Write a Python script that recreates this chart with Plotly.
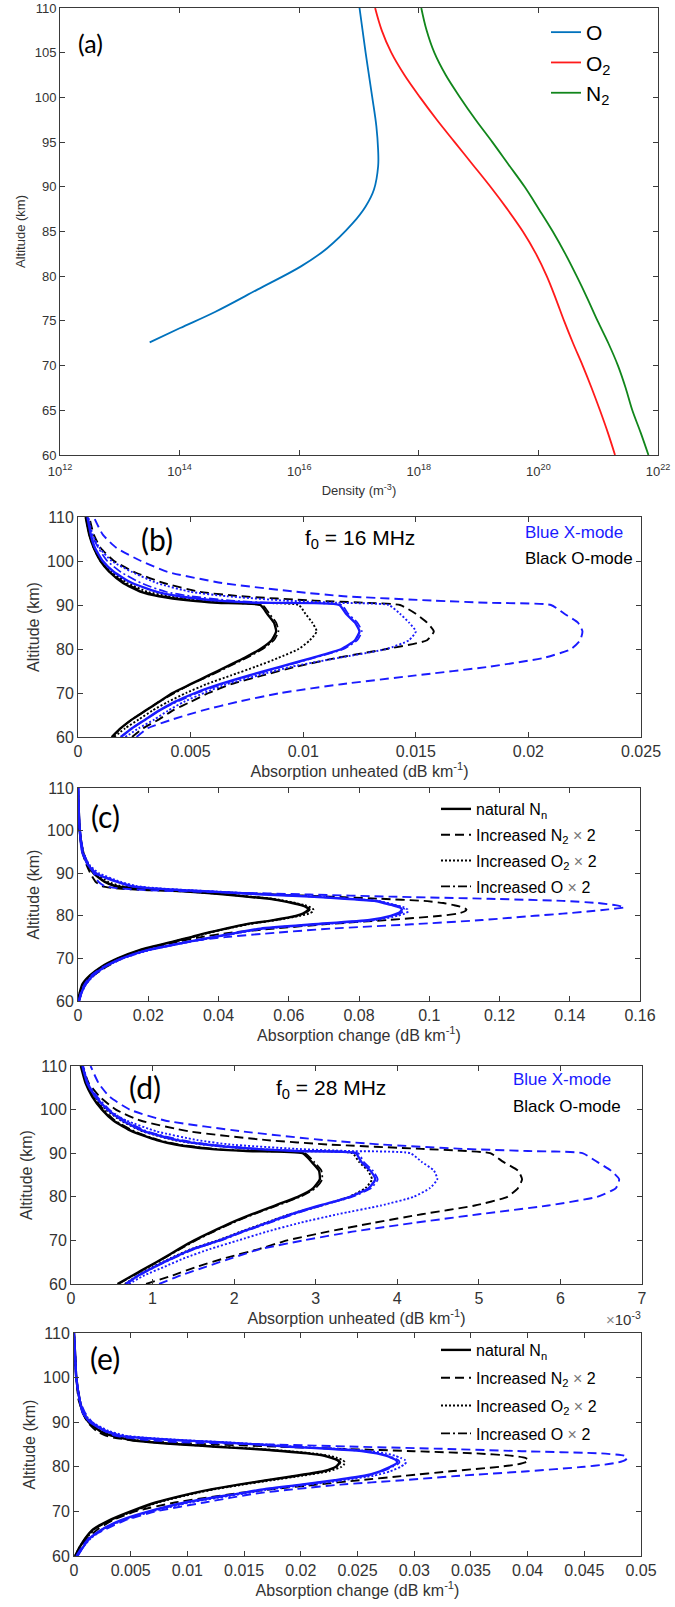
import plotly.graph_objects as go

W, H = 675, 1607
FONT = "Liberation Sans, Arial, sans-serif"
LETTER_FONT = "Lato, Open Sans, sans-serif"
BLUE = "#1a1aff"
AXC = "#3a3a3a"

# ---------------- (a) neutral densities (m^-3) ----------------
ALT_O = [72.6, 74.2, 76.0, 78.5, 81.1, 83.1, 85.9, 87.8, 89.7, 92.3, 94.1, 96.8, 100.1, 105.0, 110.0]
DEN_O = [3.16e13, 1.02e14, 3.9e14, 2.0e15, 1.07e16, 2.9e16, 7.8e16, 1.29e17, 1.78e17,
         2.09e17, 2.09e17, 1.95e17, 1.66e17, 1.29e17, 1.02e17]
ALT_MOL = [60, 62.5, 65, 67.5, 70, 72.5, 75, 77.5, 80, 82.5, 85, 87.5, 90, 92.5, 95,
           97.5, 100, 102.5, 105, 107.5, 110]
DEN_O2 = [1.91e21, 1.45e21, 1.07e21, 7.76e20, 5.50e20, 3.80e20, 2.69e20, 1.95e20, 1.38e20,
          9.12e19, 5.50e19, 3.02e19, 1.58e19, 7.94e18, 3.98e18, 2.00e18, 1.05e18, 5.75e17,
          3.47e17, 2.40e17, 1.86e17]
DEN_N2 = [6.92e21, 5.13e21, 3.72e21, 2.88e21, 2.14e21, 1.48e21, 9.77e20, 6.61e20, 4.37e20,
          2.82e20, 1.74e20, 1.02e20, 5.89e19, 3.16e19, 1.70e19, 8.91e18, 4.90e18, 2.82e18,
          1.82e18, 1.35e18, 1.10e18]
DEN_TICKS = [1e12, 1e14, 1e16, 1e18, 1e20, 1e22]
DEN_LABELS = ["10<sup>12</sup>", "10<sup>14</sup>", "10<sup>16</sup>", "10<sup>18</sup>",
              "10<sup>20</sup>", "10<sup>22</sup>"]

# ---------------- (b) / (d) unheated absorption ----------------
ALT_UNHEATED = [60, 62, 64, 66, 68, 70, 72, 74, 76, 78, 80, 82, 84, 86, 88, 90,
                90.5, 91, 92, 93, 95, 97.5, 100, 103, 106, 110]

# f0 = 16 MHz, dB/km
B_O_NAT = [.0015, .0019, .0024, .0030, .0036, .0042, .0050, .0058, .0066, .0074, .0081, .0086, .0088,
           .0087, .0084, .0081, .0062, .0050, .0036, .0028, .0020, .0014, .0010, .0007, .0005, .00034]
B_O_N2 = [.0024, .0029, .0036, .0042, .0050, .0058, .0068, .0082, .0097, .0115, .0137, .0155, .0158,
          .0155, .0150, .0143, .0128, .0105, .0072, .0054, .0038, .0025, .0016, .0010, .0007, .0005]
B_O_O2 = [.0016, .0021, .0027, .0033, .0040, .0048, .0057, .0068, .0079, .0089, .0098, .0103, .0106,
          .0104, .0101, .0098, .0070, .0056, .0040, .0031, .0022, .0015, .0010, .0007, .00052, .0004]
B_O_O = [.0015, .0019, .0024, .0030, .0036, .0043, .0050, .0059, .0067, .0075, .0082, .0087, .0089,
         .0088, .0085, .0082, .0064, .0052, .0037, .0029, .0021, .0014, .0010, .0007, .0005, .00035]
B_X_NAT = [.0019, .0024, .0030, .0036, .0043, .0052, .0063, .0076, .0090, .0104, .0117, .0123, .0125,
           .0123, .0119, .0116, .0080, .0062, .0045, .0035, .0024, .0016, .0011, .00075, .00057, .00042]
B_X_N2 = [.0026, .0031, .0042, .0055, .0071, .0090, .0117, .0150, .0183, .0207, .0219, .0223, .0224,
          .0222, .0216, .0210, .0182, .0158, .0118, .0097, .0064, .0040, .0028, .0017, .0011, .0007]
B_X_O2 = [.0021, .0027, .0034, .0040, .0047, .0056, .0066, .0080, .0095, .0116, .0137, .0147, .0150,
          .0147, .0143, .0138, .0115, .0092, .0066, .0050, .0035, .0024, .0015, .00095, .00065, .00045]
B_X_O = [.0019, .0024, .0030, .0036, .0044, .0053, .0064, .0077, .0091, .0105, .0118, .0124, .0126,
         .0124, .0120, .0117, .0085, .0068, .0050, .0039, .0028, .0019, .0013, .0009, .0006, .00045]

# f0 = 28 MHz, units of 1e-3 dB/km
D_O_NAT = [.57, .76, .95, 1.14, 1.32, 1.51, 1.73, 1.96, 2.22, 2.50, 2.78, 2.97, 3.05,
           3.04, 2.95, 2.84, 2.15, 1.70, 1.28, 1.05, 0.75, 0.52, 0.38, 0.26, 0.18, 0.12]
D_O_N2 = [.92, 1.25, 1.55, 1.90, 2.30, 2.65, 3.15, 3.70, 4.30, 4.95, 5.35, 5.48, 5.53,
          5.48, 5.30, 5.14, 4.85, 4.30, 3.15, 2.40, 1.45, 0.85, 0.55, 0.35, 0.22, 0.14]
D_O_O2 = [.66, .82, 1.01, 1.23, 1.47, 1.80, 2.08, 2.38, 2.68, 3.07, 3.41, 3.61, 3.69,
          3.64, 3.53, 3.45, 2.70, 2.20, 1.62, 1.27, 0.88, 0.61, 0.43, 0.29, 0.19, 0.13]
D_O_O = [.58, .77, .96, 1.15, 1.34, 1.53, 1.75, 1.98, 2.24, 2.53, 2.81, 3.00, 3.08,
         3.07, 2.98, 2.87, 2.20, 1.75, 1.32, 1.08, 0.78, 0.54, 0.40, 0.27, 0.19, 0.13]
D_X_NAT = [.67, .83, 1.03, 1.25, 1.49, 1.82, 2.10, 2.40, 2.70, 3.05, 3.42, 3.65, 3.73,
           3.67, 3.56, 3.49, 2.75, 2.25, 1.65, 1.30, 0.90, 0.63, 0.45, 0.30, 0.20, 0.14]
D_X_N2 = [1.08, 1.35, 1.66, 1.98, 2.32, 2.85, 3.45, 4.20, 5.00, 5.85, 6.45, 6.68, 6.72,
          6.62, 6.45, 6.27, 5.60, 4.80, 3.80, 3.10, 2.10, 1.15, 0.72, 0.47, 0.34, 0.24]
D_X_O2 = [.71, .90, 1.15, 1.40, 1.70, 2.05, 2.40, 2.80, 3.27, 3.80, 4.20, 4.40, 4.49,
          4.45, 4.30, 4.16, 3.40, 2.75, 1.95, 1.55, 1.05, 0.68, 0.44, 0.30, 0.21, 0.15]
D_X_O = [.68, .84, 1.04, 1.27, 1.51, 1.84, 2.12, 2.43, 2.73, 3.08, 3.45, 3.68, 3.76,
         3.70, 3.59, 3.52, 2.80, 2.30, 1.70, 1.35, 0.94, 0.66, 0.47, 0.32, 0.21, 0.15]

# ---------------- (c) / (e) absorption change ----------------
ALT_CHANGE = [60, 62, 64, 66, 68, 70, 72, 74, 75, 76, 77, 78, 79, 80, 80.5, 81, 81.5, 82, 82.5,
              83, 83.5, 84, 84.5, 85, 85.5, 86, 86.5, 87, 88, 90, 92, 95, 100, 105, 110]

C_O_NAT = [0, .0005, .0013, .0034, .0066, .0113, .0177, .0273, .0322, .0367, .0420, .0476, .0556, .0620,
           .0640, .0650, .0656, .0650, .0635, .0610, .0580, .0545, .0480, .0420, .0340, .0260, .0150,
           .0105, .0075, .0044, .0028, .0014, .0005, .0002, 0]
C_O_N2 = [.0003, .0010, .0022, .0045, .0080, .0125, .0190, .0290, .0350, .0430, .0560, .0700, .0880, .1033,
          .1080, .1100, .1106, .1095, .1070, .1040, .0985, .0860, .0720, .0560, .0420, .0200, .0100,
          .0068, .0050, .0035, .0024, .0012, .0004, .0001, 0]
C_O_O2 = [0, .0005, .0014, .0035, .0068, .0115, .0180, .0276, .0326, .0372, .0426, .0484, .0566, .0633,
          .0657, .0668, .0670, .0662, .0645, .0620, .0590, .0555, .0490, .0430, .0350, .0270, .0170,
          .0120, .0085, .0050, .0030, .0015, .0005, .0002, 0]
C_O_O = [.0001, .0007, .0016, .0036, .0068, .0115, .0180, .0276, .0325, .0370, .0424, .0480, .0560, .0624,
         .0644, .0654, .0660, .0654, .0639, .0614, .0584, .0549, .0484, .0424, .0344, .0264, .0154,
         .0108, .0078, .0046, .0029, .0014, .0005, .0002, 0]
C_X_NAT = [.0003, .0010, .0022, .0043, .0075, .0125, .0200, .0320, .0385, .0450, .0520, .0670, .0830, .0890,
           .0908, .0918, .0922, .0915, .0895, .0870, .0844, .0760, .0660, .0530, .0420, .0300, .0200,
           .0150, .0110, .0050, .0028, .0012, .0005, .0002, .0001]
C_X_N2 = [.0002, .0008, .0019, .0038, .0072, .0125, .0200, .0320, .0420, .0560, .0720, .0950, .1150, .1300,
          .1380, .1450, .1510, .1556, .1530, .1480, .1380, .1170, .0890, .0660, .0420, .0200, .0110,
          .0075, .0058, .0045, .0030, .0015, .0006, .0002, 0]
C_X_O2 = [.0003, .0011, .0023, .0045, .0078, .0128, .0205, .0325, .0392, .0458, .0530, .0685, .0850, .0910,
          .0930, .0940, .0938, .0928, .0905, .0880, .0855, .0775, .0680, .0555, .0440, .0320, .0220,
          .0165, .0120, .0060, .0032, .0014, .0005, .0002, .0001]
C_X_O = [.0003, .0010, .0022, .0044, .0076, .0127, .0203, .0324, .0390, .0455, .0526, .0677, .0838, .0898,
         .0916, .0926, .0930, .0923, .0903, .0878, .0852, .0768, .0668, .0538, .0428, .0308, .0206,
         .0155, .0114, .0052, .0029, .0012, .0005, .0002, .0001]

E_O_NAT = [.0001, .0005, .0010, .0017, .0031, .0050, .0072, .0103, .0122, .0145, .0170, .0196, .0220, .0231,
           .0233, .0234, .0232, .0227, .0220, .0206, .0185, .0159, .0125, .0095, .0068, .0050, .0041,
           .0033, .0023, .0013, .0008, .0005, .0002, .0001, 0]
E_O_N2 = [.0002, .0006, .0012, .0021, .0034, .0054, .0089, .0142, .0176, .0214, .0252, .0292, .0332, .0375,
          .0390, .0398, .0401, .0398, .0385, .0355, .0300, .0240, .0180, .0125, .0080, .0050, .0036,
          .0028, .0020, .0012, .0008, .0004, .0002, .0001, 0]
E_O_O2 = [.0001, .0005, .0011, .0018, .0032, .0052, .0074, .0106, .0125, .0149, .0175, .0201, .0225, .0236,
          .0238, .0239, .0237, .0232, .0225, .0211, .0190, .0164, .0130, .0099, .0072, .0054, .0044,
          .0035, .0024, .0014, .0009, .0005, .0002, .0001, 0]
E_O_O = [.0001, .0005, .0010, .0018, .0032, .0051, .0073, .0104, .0123, .0146, .0171, .0197, .0221, .0232,
         .0234, .0235, .0233, .0228, .0221, .0207, .0186, .0160, .0126, .0096, .0069, .0051, .0042,
         .0034, .0023, .0013, .0008, .0005, .0002, .0001, 0]
E_X_NAT = [.0003, .0008, .0014, .0025, .0041, .0066, .0098, .0145, .0168, .0200, .0230, .0256, .0270, .0279,
           .0283, .0285, .0284, .0280, .0275, .0267, .0255, .0228, .0190, .0163, .0128, .0088, .0058,
           .0040, .0028, .0014, .0008, .0005, .0002, .0001, 0]
E_X_N2 = [.0002, .0007, .0013, .0028, .0045, .0072, .0115, .0160, .0195, .0235, .0290, .0340, .0400, .0450,
          .0468, .0480, .0486, .0488, .0485, .0465, .0395, .0330, .0250, .0175, .0095, .0065, .0048,
          .0036, .0027, .0016, .0010, .0005, .0002, .0001, 0]
E_X_O2 = [.0003, .0008, .0015, .0026, .0043, .0069, .0102, .0150, .0174, .0207, .0238, .0264, .0279, .0288,
          .0291, .0293, .0292, .0288, .0283, .0275, .0262, .0235, .0197, .0168, .0134, .0095, .0064,
          .0045, .0031, .0016, .0009, .0005, .0002, .0001, 0]
E_X_O = [.0003, .0008, .0014, .0025, .0042, .0067, .0100, .0147, .0170, .0202, .0232, .0258, .0272, .0281,
         .0285, .0287, .0286, .0282, .0277, .0269, .0257, .0230, .0192, .0165, .0130, .0090, .0060,
         .0042, .0029, .0015, .0008, .0005, .0002, .0001, 0]

LEGEND_NAMES = ["natural N<sub>n</sub>",
                "Increased N<sub>2</sub> <span style='color:#777'>×</span> 2",
                "Increased O<sub>2</sub> <span style='color:#777'>×</span> 2",
                "Increased O <span style='color:#777'>×</span> 2"]

# line style per neutral-density case: (dash pattern, width)
CASE_STYLE = {
    "nat": ("solid", 2.4),
    "n2": ("9px,5px", 1.9),
    "o2": ("2px,2px", 1.9),
    "o": ("9px,3px,2px,3px", 1.7),
}

# panel boxes in pixels: left, top, right, bottom
BOX = {
    "a": (60, 8, 658, 455),
    "b": (78, 517, 641, 737),
    "c": (78, 788, 640, 1001),
    "d": (71, 1066, 642, 1284),
    "e": (74, 1333, 641, 1556),
}
AX_ID = {"a": "", "b": "2", "c": "3", "d": "4", "e": "5"}


def px(x):
    return x / W


def py(y):
    return 1 - y / H


fig = go.Figure()

# ---- (a) ----
for name, alt, den, col in [("O", ALT_O, DEN_O, "#0072BD"),
                            ("O<sub>2</sub>", ALT_MOL, DEN_O2, "#FF1a1a"),
                            ("N<sub>2</sub>", ALT_MOL, DEN_N2, "#11861b")]:
    fig.add_trace(go.Scatter(x=den, y=alt, mode="lines", name=name,
                             line=dict(color=col, width=1.8, shape="spline", smoothing=1.0),
                             xaxis="x", yaxis="y", legend="legend", showlegend=True))

# ---- (b)-(e) ----
panels = [
    ("b", ALT_UNHEATED, {"nat": (B_O_NAT, B_X_NAT), "n2": (B_O_N2, B_X_N2),
                         "o2": (B_O_O2, B_X_O2), "o": (B_O_O, B_X_O)}),
    ("c", ALT_CHANGE, {"nat": (C_O_NAT, C_X_NAT), "n2": (C_O_N2, C_X_N2),
                       "o2": (C_O_O2, C_X_O2), "o": (C_O_O, C_X_O)}),
    ("d", ALT_UNHEATED, {"nat": (D_O_NAT, D_X_NAT), "n2": (D_O_N2, D_X_N2),
                         "o2": (D_O_O2, D_X_O2), "o": (D_O_O, D_X_O)}),
    ("e", ALT_CHANGE, {"nat": (E_O_NAT, E_X_NAT), "n2": (E_O_N2, E_X_N2),
                       "o2": (E_O_O2, E_X_O2), "o": (E_O_O, E_X_O)}),
]
for key, alts, cases in panels:
    ax = AX_ID[key]
    for mode_idx, color in [(0, "#000000"), (1, BLUE)]:
        for case in ["o", "o2", "n2", "nat"]:
            dash, width = CASE_STYLE[case]
            fig.add_trace(go.Scatter(
                x=cases[case][mode_idx], y=alts, mode="lines", showlegend=False,
                line=dict(color=color, width=width, dash=dash, shape="spline", smoothing=0.5),
                xaxis="x" + ax, yaxis="y" + ax, hoverinfo="skip"))

# legend entries for (c) and (e)
for leg, ax in [("legend2", "3"), ("legend3", "5")]:
    for i, case in enumerate(["nat", "n2", "o2", "o"]):
        dash, width = CASE_STYLE[case]
        fig.add_trace(go.Scatter(x=[None], y=[None], mode="lines", name=LEGEND_NAMES[i],
                                 line=dict(color="#000000", width=width, dash=dash),
                                 xaxis="x" + ax, yaxis="y" + ax, legend=leg,
                                 legendgroup=leg + case, showlegend=True))


def axis(key, rng, tickvals, ticktext, size, title, standoff, is_x, log=False, label_gap=None):
    l, t, r, b = BOX[key]
    ax = AX_ID[key]
    d = dict(
        range=rng, tickvals=tickvals, ticktext=ticktext,
        showline=True, linecolor=AXC, linewidth=1, mirror="ticks",
        ticks="inside", ticklen=5, tickwidth=1, tickcolor=AXC,
        showgrid=False, zeroline=False, automargin=False,
        tickfont=dict(family=FONT, size=size, color="#333"),
        title=dict(text=title, font=dict(family=FONT, size=size, color="#333"), standoff=standoff),
        fixedrange=True,
    )
    if label_gap is not None:
        d["ticklabelstandoff"] = label_gap
    if log:
        d["type"] = "log"
    if is_x:
        d["domain"] = [px(l), px(r)]
        d["anchor"] = "y" + ax
    else:
        d["domain"] = [py(b), py(t)]
        d["anchor"] = "x" + ax
    return d


alt5 = list(range(60, 111, 5))
alt10 = list(range(60, 111, 10))
TS = 16
layout = dict(
    width=W, height=H, margin=dict(l=0, r=0, t=0, b=0),
    paper_bgcolor="white", plot_bgcolor="white",
    font=dict(family=FONT, color="#000"),
    xaxis=axis("a", [12, 22], DEN_TICKS, DEN_LABELS, 13, "Density (m<sup>-3</sup>)", 8, True,
               log=True, label_gap=4),
    yaxis=axis("a", [60, 110], alt5, [str(v) for v in alt5], 13, "Altitude (km)", 6, False),
    xaxis2=axis("b", [0, 0.025], [0, .005, .01, .015, .02, .025],
                ["0", "0.005", "0.01", "0.015", "0.02", "0.025"], TS,
                "Absorption unheated (dB km<sup>-1</sup>)", 5, True),
    yaxis2=axis("b", [60, 110], alt10, [str(v) for v in alt10], TS, "Altitude (km)", 3, False),
    xaxis3=axis("c", [0, 0.16], [0, .02, .04, .06, .08, .1, .12, .14, .16],
                ["0", "0.02", "0.04", "0.06", "0.08", "0.1", "0.12", "0.14", "0.16"], TS,
                "Absorption change (dB km<sup>-1</sup>)", 4, True),
    yaxis3=axis("c", [60, 110], alt10, [str(v) for v in alt10], TS, "Altitude (km)", 3, False),
    xaxis4=axis("d", [0, 7], list(range(8)), [str(v) for v in range(8)], TS,
                "Absorption unheated (dB km<sup>-1</sup>)", 6, True),
    yaxis4=axis("d", [60, 110], alt10, [str(v) for v in alt10], TS, "Altitude (km)", 3, False),
    xaxis5=axis("e", [0, 0.05], [0, .005, .01, .015, .02, .025, .03, .035, .04, .045, .05],
                ["0", "0.005", "0.01", "0.015", "0.02", "0.025", "0.03", "0.035", "0.04", "0.045", "0.05"],
                TS, "Absorption change (dB km<sup>-1</sup>)", 5, True),
    yaxis5=axis("e", [60, 110], alt10, [str(v) for v in alt10], TS, "Altitude (km)", 3, False),
    legend=dict(x=px(546), y=py(12), xanchor="left", yanchor="top", bgcolor="rgba(0,0,0,0)",
                font=dict(family=FONT, size=21, color="#000"), tracegroupgap=6, itemwidth=30),
    legend2=dict(x=px(436), y=py(792), xanchor="left", yanchor="top", bgcolor="rgba(0,0,0,0)",
                 font=dict(family=FONT, size=16, color="#000"), tracegroupgap=2, itemwidth=30),
    legend3=dict(x=px(436), y=py(1333), xanchor="left", yanchor="top", bgcolor="rgba(0,0,0,0)",
                 font=dict(family=FONT, size=16, color="#000"), tracegroupgap=4, itemwidth=30),
    showlegend=True,
)
fig.update_layout(**layout)


def note(text, x, y, size, color="#000", family=FONT, xanchor="left"):
    fig.add_annotation(text=text, x=px(x), y=py(y), xref="paper", yref="paper",
                       xanchor=xanchor, yanchor="middle", showarrow=False,
                       font=dict(family=family, size=size, color=color))


note("(a)", 90, 43, 25, family=LETTER_FONT, xanchor="center")
note("(b)", 157, 539, 30, family=LETTER_FONT, xanchor="center")
note("(c)", 105, 816, 30, family=LETTER_FONT, xanchor="center")
note("(d)", 145, 1087, 30, family=LETTER_FONT, xanchor="center")
note("(e)", 105, 1358, 30, family=LETTER_FONT, xanchor="center")
note("f<sub>0</sub> = 16 MHz", 303, 539, 21)
note("f<sub>0</sub> = 28 MHz", 274, 1089, 21)
note("Blue X-mode", 523, 532, 17, color=BLUE)
note("Black O-mode", 523, 558, 17)
note("Blue X-mode", 511, 1079, 17, color=BLUE)
note("Black O-mode", 511, 1106, 17)
note("<span style='color:#888'>×</span>10<sup>-3</sup>", 643, 1318, 15, color="#333", xanchor="right")

fig.write_html("out.html")
